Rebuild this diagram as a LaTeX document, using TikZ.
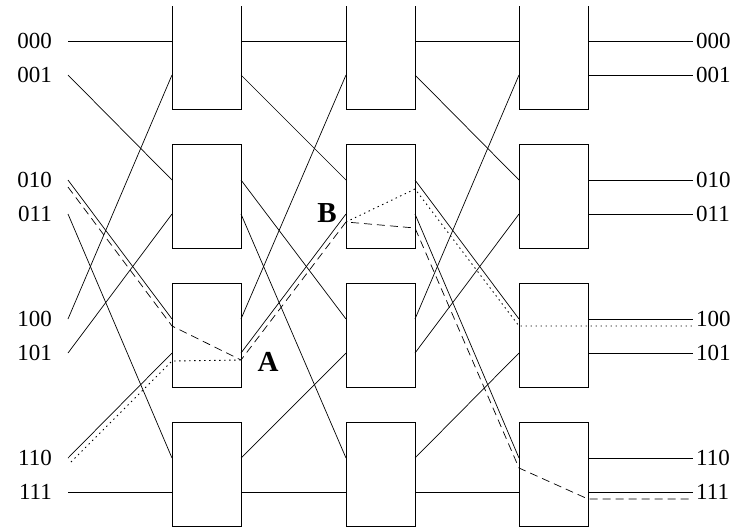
\documentclass[tikz,border=0pt]{standalone}
\usepackage{fontspec}
\setmainfont{Liberation Serif}
\usetikzlibrary{calc}

\begin{document}
\begin{tikzpicture}[x=1pt, y=-1pt,
  switchbox/.style={draw, line width=0.9pt, minimum width=69pt, minimum height=104pt, inner sep=0pt, outer sep=0pt, anchor=north west},
  wire/.style={line width=0.7pt},
  lbl/.style={font=\fontsize{23}{23}\selectfont, inner sep=0pt},
  tag/.style={font=\fontsize{29}{29}\selectfont\bfseries, inner sep=0pt},
  routeA/.style={line width=0.7pt, dash pattern=on 8pt off 5pt},
  routeB/.style={line width=0.9pt, dash pattern=on 1.4pt off 3.6pt}]
\useasboundingbox (0,0) rectangle (755,528);
\clip (0,6.5) rectangle (755,528);
\foreach \c/\x in {1/172,2/346,3/519}
  \foreach \r/\y in {1/5,2/144,3/283,4/422}{
    \node[switchbox] (s\c\r) at (\x,\y) {};
    \coordinate (s\c\r-i1) at ($(s\c\r.north west)+(0,36)$);
    \coordinate (s\c\r-i2) at ($(s\c\r.north west)+(0,70)$);
    \coordinate (s\c\r-o1) at ($(s\c\r.north east)+(0,36)$);
    \coordinate (s\c\r-o2) at ($(s\c\r.north east)+(0,70)$);
  }
\foreach \r/\y in {1/5,2/144,3/283,4/422}{
  \coordinate (in\r1) at (68,\y+36);
  \coordinate (in\r2) at (68,\y+70);
  \coordinate (out\r1) at (693,\y+36);
  \coordinate (out\r2) at (693,\y+70);
}
\foreach \r/\p/\t in {1/1/000,1/2/001,2/1/010,2/2/011,3/1/100,3/2/101,4/1/110,4/2/111}{
  \node[lbl, anchor=east] (l\t) at ($(in\r\p)+(-16,0)$) {\t};
  \node[lbl, anchor=west] (r\t) at ($(out\r\p)+(3,0)$) {\t};
  \draw[wire] (s3\r-o\p) -- (out\r\p);
}
\foreach \r/\p/\tr/\tp in {1/1/1/1,1/2/2/1,2/1/3/1,2/2/4/1,3/1/1/2,3/2/2/2,4/1/3/2,4/2/4/2}{
  \draw[wire] (in\r\p) -- (s1\tr-i\tp);
  \draw[wire] (s1\r-o\p) -- (s2\tr-i\tp);
  \draw[wire] (s2\r-o\p) -- (s3\tr-i\tp);
}
\coordinate (A) at (241,360);
\coordinate (B) at (346,222);
\coordinate (d0) at (68,187);
\coordinate (d1) at (172,326);
\coordinate (d2) at (415,228);
\coordinate (d3) at (519,468);
\coordinate (d4) at (588,499);
\coordinate (d5) at (693,499);
\coordinate (t0) at (71,462);
\coordinate (t1) at (172,361);
\coordinate (t2) at (415,189);
\coordinate (t3) at (519,326);
\coordinate (t4) at (693,326);
\draw[routeB] (t0) -- (t1) -- (A);
\draw[routeB] (B) -- (t2) -- (t3) -- (t4);
\draw[routeA] (d0) -- (d1) -- (A) -- (B) -- (d2) -- (d3) -- (d4) -- (d5);
\node[tag] (tagA) at (268,362) {A};
\node[tag] (tagB) at (327,213) {B};
\end{tikzpicture}
\end{document}
